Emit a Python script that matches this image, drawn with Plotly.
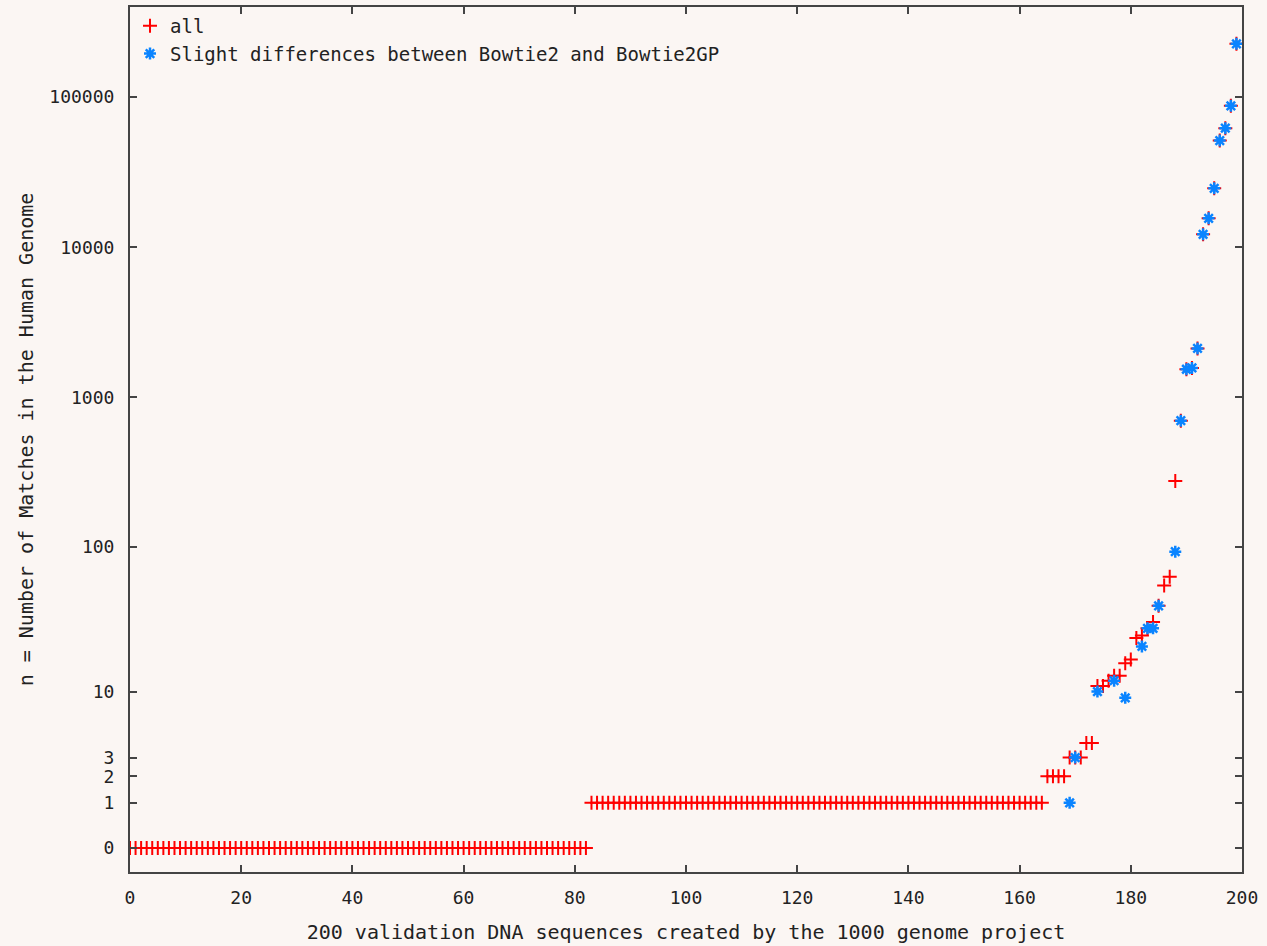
import numpy as np
import plotly.graph_objects as go

# ---- data (n = number of matches) ----
all_x = list(range(0, 200))
all_n = ([0] * 83 + [1] * 82 + [2] * 4 + [3] * 3 + [4] * 2 +
         [11, 11, 12, 13, 13, 16, 17, 24, 25, 28, 31, 40, 55, 63, 277, 699,
          1540, 1570, 2120, 12200, 15600, 24700, 51400, 62100, 87500, 226500])

diff_x = [169, 170, 174, 177, 179, 182, 183, 184, 185, 188, 189, 190, 191,
          192, 193, 194, 195, 196, 197, 198, 199]
diff_n = [1, 3, 10, 12, 9, 21, 28, 28, 40, 93, 699, 1540, 1570, 2120, 12200,
          15600, 24700, 51400, 62100, 87500, 226500]

ytick_n = [0, 1, 2, 3, 10, 100, 1000, 10000, 100000]
ytick_labels = ["0", "1", "2", "3", "10", "100", "1000", "10000", "100000"]

def tr(v):
    return np.log10(np.asarray(v, dtype=float) + 1.0)

FONT = "DejaVu Sans Mono"
BG = "#fbf6f3"
AX = "#444444"

fig = go.Figure()
fig.add_trace(go.Scatter(
    x=all_x, y=tr(all_n), mode="markers", name="all",
    marker=dict(symbol="cross-thin", size=10, color="#ff0000",
                line=dict(color="#ff0000", width=2)),
))
fig.add_trace(go.Scatter(
    x=diff_x, y=tr(diff_n), mode="markers",
    name="Slight differences between Bowtie2 and Bowtie2GP",
    marker=dict(symbol="asterisk-open", size=10, color="#0a84ff",
                line=dict(color="#0a84ff", width=2.5)),
))

fig.update_layout(
    width=1267, height=946,
    margin=dict(l=130, r=25, t=7, b=74, autoexpand=False),
    paper_bgcolor=BG, plot_bgcolor=BG,
    font=dict(family=FONT, size=18, color="#222222"),
    showlegend=True,
    legend=dict(x=0.0, y=1.0, xanchor="left", yanchor="top",
                bgcolor="rgba(0,0,0,0)", font=dict(family=FONT, size=19),
                tracegroupgap=0, itemwidth=30),
)
fig.update_xaxes(
    range=[0, 200], dtick=20, tick0=0, showgrid=False, zeroline=False,
    showline=True, linecolor=AX, linewidth=2, mirror="ticks",
    ticks="inside", ticklen=7, tickwidth=2, tickcolor=AX,
    ticklabelstandoff=8, automargin=False,
    tickfont=dict(family=FONT, size=18),
    title=dict(text="200 validation DNA sequences created by the 1000 genome project",
               standoff=18, font=dict(family=FONT, size=20)),
)
fig.update_yaxes(
    range=[-0.16, 5.6], tickvals=list(tr(ytick_n)), ticktext=ytick_labels,
    showgrid=False, zeroline=False,
    showline=True, linecolor=AX, linewidth=2, mirror="ticks",
    ticks="inside", ticklen=7, tickwidth=2, tickcolor=AX,
    ticklabelstandoff=10, automargin=False,
    tickfont=dict(family=FONT, size=18),
    title=dict(text="n = Number of Matches in the Human Genome",
               standoff=10, font=dict(family=FONT, size=20)),
)

fig.write_html(
    "out.html",
    config={"displayModeBar": False},
    post_script="document.body.style.margin='0';document.body.style.overflow='hidden';"
                "document.body.style.background='" + BG + "';",
)
